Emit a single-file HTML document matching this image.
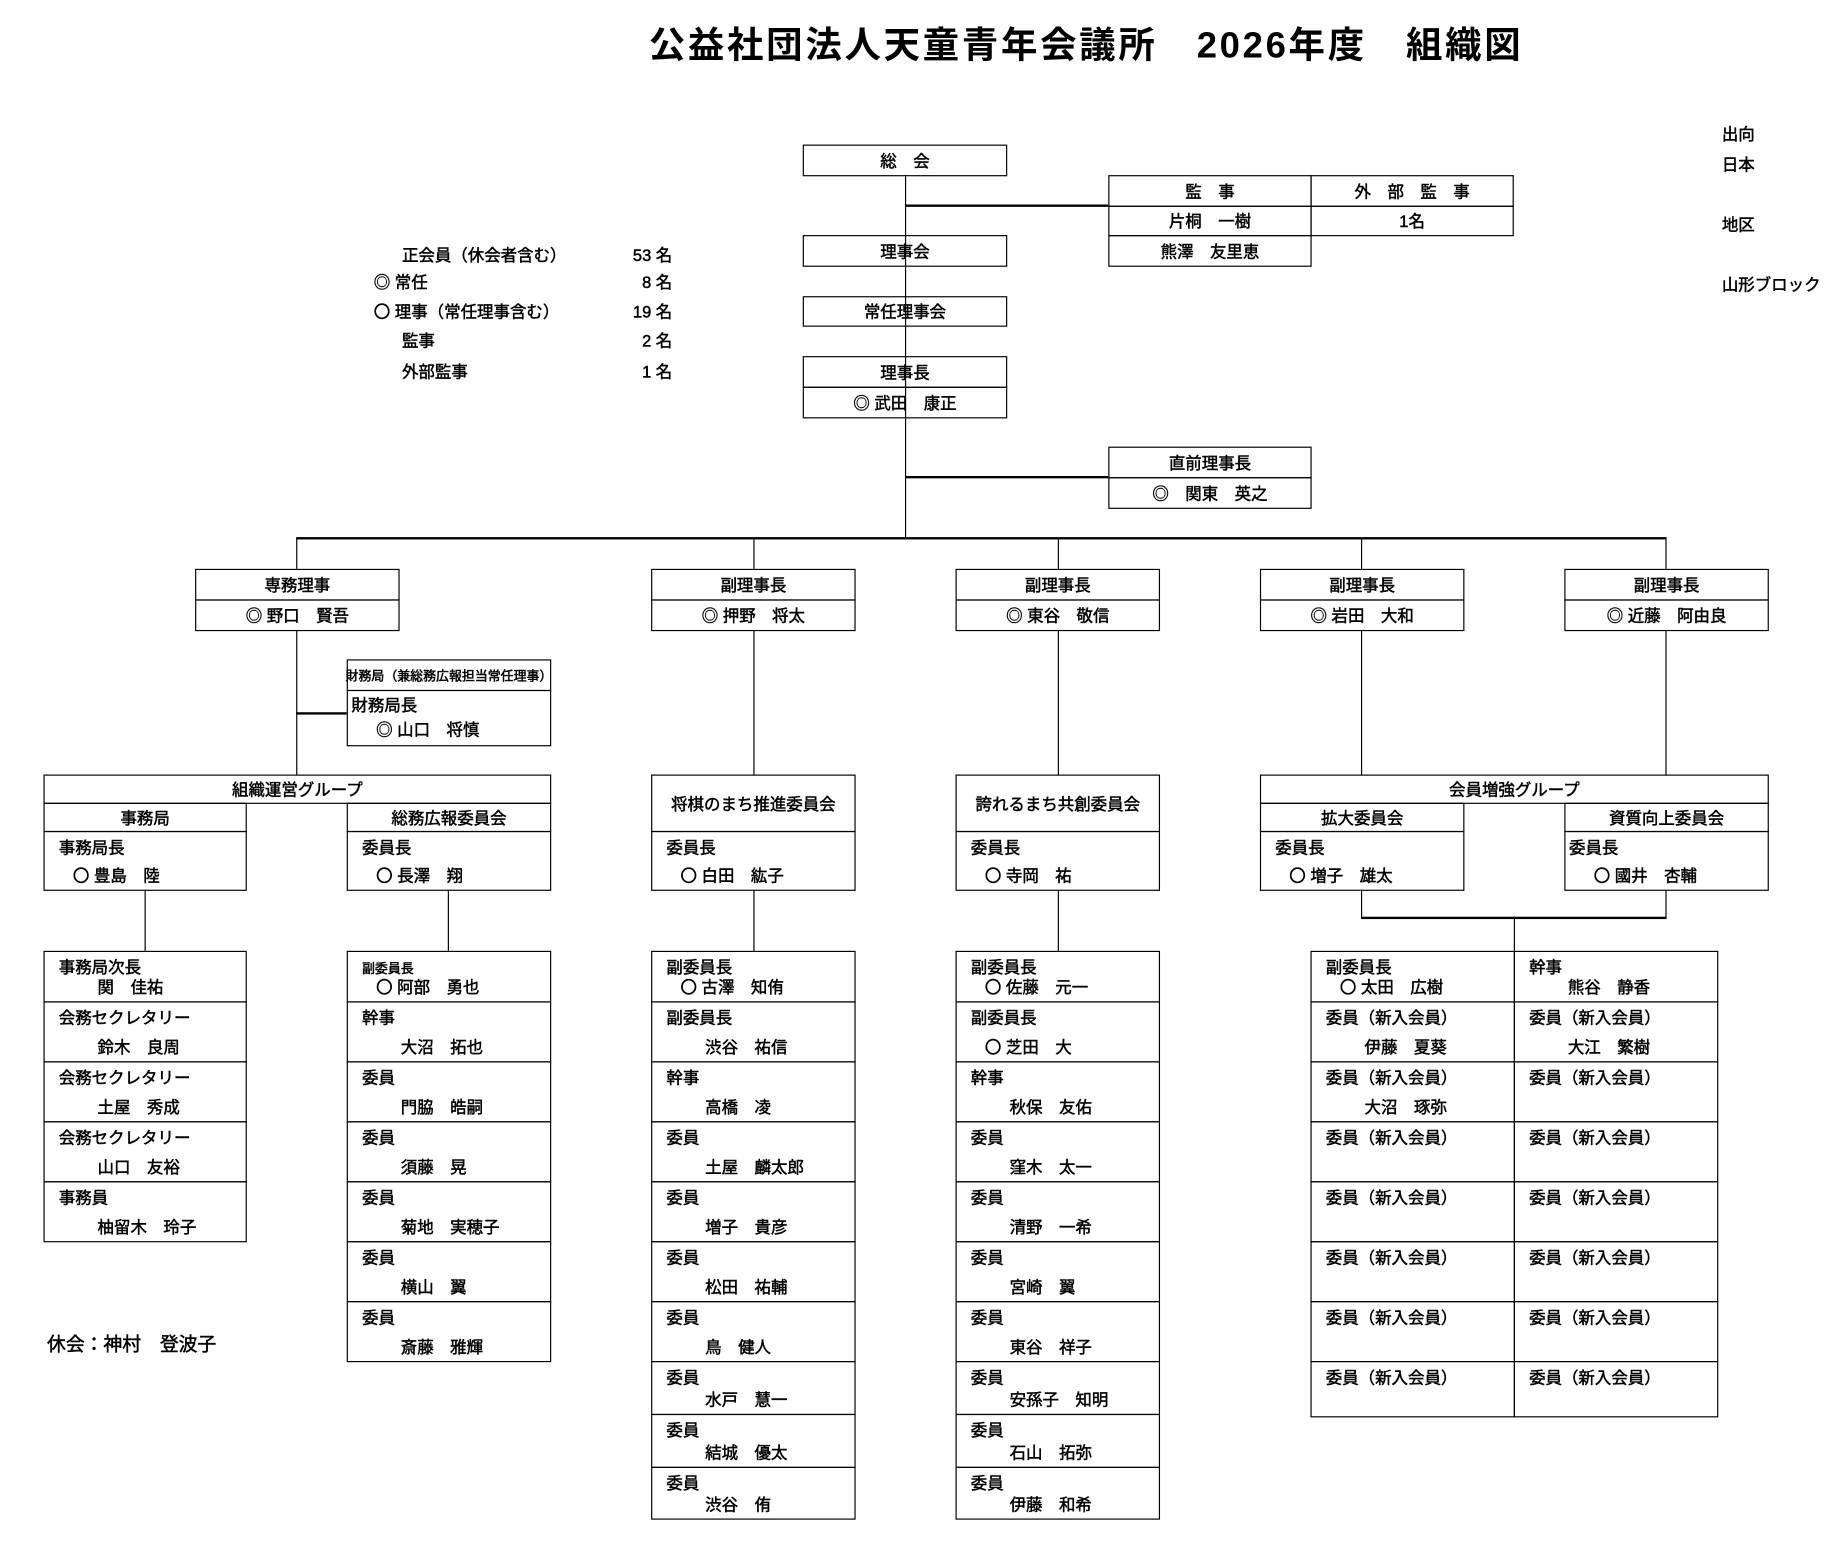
<!DOCTYPE html>
<html><head><meta charset="utf-8">
<style>
html,body{margin:0;padding:0;background:#fff;}
body{width:1842px;height:1556px;overflow:hidden;position:relative;}
#w{position:absolute;left:0;top:0;width:1560px;height:1318px;transform:scale(1.1753);transform-origin:0 0;
font-family:"Liberation Sans","Noto Sans CJK JP",sans-serif;font-size:14px;color:#000;-webkit-text-stroke:0.4px #000;}
.b{position:absolute;box-sizing:border-box;border-left:1.3px solid #000;border-right:1.3px solid #000;border-top:1.8px solid #000;border-bottom:1.8px solid #000;}
.c{display:flex;align-items:center;justify-content:center;white-space:nowrap;}
.h{position:absolute;height:1.6px;background:#000;}
.v{position:absolute;width:1.3px;background:#000;}
.t{position:absolute;white-space:nowrap;line-height:18px;}
.l{position:absolute;left:12px;top:4px;white-space:nowrap;line-height:18px;}
.n{position:absolute;left:45px;bottom:3px;white-space:nowrap;line-height:18px;}
.nc{position:absolute;left:24px;bottom:3px;white-space:nowrap;line-height:18px;}
.sm{font-size:11px;}
</style></head><body><div id="w">

<div class="t" style="left:552px;top:18px;font-size:31px;line-height:42px;font-weight:bold;-webkit-text-stroke:0;letter-spacing:2.3px;">公益社団法人天童青年会議所　2026年度　組織図</div>

<div class="t" style="left:1465px;top:105px;">出向</div>
<div class="t" style="left:1465px;top:131px;">日本</div>
<div class="t" style="left:1465px;top:182px;">地区</div>
<div class="t" style="left:1465px;top:233px;">山形ブロック</div>

<div class="t" style="left:342px;top:208px;">正会員（休会者含む）</div><div class="t" style="left:520px;top:208px;width:52px;text-align:right;">53 名</div>
<div class="t" style="left:318px;top:231px;">◎ 常任</div><div class="t" style="left:520px;top:231px;width:52px;text-align:right;">8 名</div>
<div class="t" style="left:318px;top:256px;">〇 理事（常任理事含む）</div><div class="t" style="left:520px;top:256px;width:52px;text-align:right;">19 名</div>
<div class="t" style="left:342px;top:281px;">監事</div><div class="t" style="left:520px;top:281px;width:52px;text-align:right;">2 名</div>
<div class="t" style="left:342px;top:307px;">外部監事</div><div class="t" style="left:520px;top:307px;width:52px;text-align:right;">1 名</div>

<div class="t" style="left:40px;top:1136px;font-size:16px;">休会：神村　登波子</div>

<div class="v" style="left:770px;top:149px;height:309px;"></div>
<div class="h" style="left:770px;top:174px;width:173px;"></div>
<div class="h" style="left:770px;top:405px;width:173px;"></div>
<div class="h" style="left:252px;top:457px;width:1166px;"></div>
<div class="v" style="left:252px;top:458px;height:26px;"></div>
<div class="v" style="left:641px;top:458px;height:26px;"></div>
<div class="v" style="left:900px;top:458px;height:26px;"></div>
<div class="v" style="left:1158px;top:458px;height:26px;"></div>
<div class="v" style="left:1417px;top:458px;height:26px;"></div>

<div class="b c" style="left:683px;top:123px;width:174px;height:27px;">総　会</div>
<div class="b c" style="left:683px;top:200px;width:174px;height:27px;">理事会</div>
<div class="b c" style="left:683px;top:252px;width:174px;height:26px;">常任理事会</div>
<div class="b c" style="left:683px;top:303px;width:174px;height:27px;">理事長</div>
<div class="b c" style="left:683px;top:329px;width:174px;height:27px;">◎ 武田　康正</div>

<div class="b c" style="left:943px;top:149px;width:173px;height:27px;">監　事</div>
<div class="b c" style="left:1115px;top:149px;width:173px;height:27px;">外　部　監　事</div>
<div class="b c" style="left:943px;top:175px;width:173px;height:26px;">片桐　一樹</div>
<div class="b c" style="left:1115px;top:175px;width:173px;height:26px;">1名</div>
<div class="b c" style="left:943px;top:200px;width:173px;height:27px;">熊澤　友里恵</div>

<div class="b c" style="left:943px;top:380px;width:173px;height:27px;">直前理事長</div>
<div class="b c" style="left:943px;top:406px;width:173px;height:27px;">◎　関東　英之</div>

<div class="b c" style="left:166px;top:484px;width:174px;height:27px;">専務理事</div>
<div class="b c" style="left:166px;top:510px;width:174px;height:27px;">◎ 野口　賢吾</div>
<div class="b c" style="left:554px;top:484px;width:174px;height:27px;">副理事長</div>
<div class="b c" style="left:554px;top:510px;width:174px;height:27px;">◎ 押野　将太</div>
<div class="b c" style="left:813px;top:484px;width:174px;height:27px;">副理事長</div>
<div class="b c" style="left:813px;top:510px;width:174px;height:27px;">◎ 東谷　敬信</div>
<div class="b c" style="left:1072px;top:484px;width:174px;height:27px;">副理事長</div>
<div class="b c" style="left:1072px;top:510px;width:174px;height:27px;">◎ 岩田　大和</div>
<div class="b c" style="left:1331px;top:484px;width:174px;height:27px;">副理事長</div>
<div class="b c" style="left:1331px;top:510px;width:174px;height:27px;">◎ 近藤　阿由良</div>

<div class="v" style="left:252px;top:536px;height:123px;"></div>
<div class="h" style="left:252px;top:606px;width:43px;"></div>
<div class="v" style="left:641px;top:536px;height:123px;"></div>
<div class="v" style="left:900px;top:536px;height:123px;"></div>
<div class="v" style="left:1158px;top:536px;height:123px;"></div>
<div class="v" style="left:1417px;top:536px;height:123px;"></div>

<div class="b c sm" style="left:295px;top:561px;width:174px;height:27px;">財務局（兼総務広報担当常任理事）</div>
<div class="b" style="left:295px;top:587px;width:174px;height:48px;"><span class="l" style="left:3px;top:3px;">財務局長</span><span class="nc" style="bottom:4px;">◎ 山口　将慎</span></div>

<div class="b c" style="left:37px;top:659px;width:432px;height:25px;">組織運営グループ</div>
<div class="b c" style="left:37px;top:683px;width:173px;height:25px;">事務局</div>
<div class="b c" style="left:295px;top:683px;width:174px;height:25px;">総務広報委員会</div>
<div class="b" style="left:37px;top:707px;width:173px;height:51px;"><span class="l">事務局長</span><span class="nc">〇 豊島　陸</span></div>
<div class="b" style="left:295px;top:707px;width:174px;height:51px;"><span class="l">委員長</span><span class="nc">〇 長澤　翔</span></div>

<div class="b c" style="left:554px;top:659px;width:174px;height:49px;">将棋のまち推進委員会</div>
<div class="b" style="left:554px;top:707px;width:174px;height:51px;"><span class="l">委員長</span><span class="nc">〇 白田　紘子</span></div>
<div class="b c" style="left:813px;top:659px;width:174px;height:49px;">誇れるまち共創委員会</div>
<div class="b" style="left:813px;top:707px;width:174px;height:51px;"><span class="l">委員長</span><span class="nc">〇 寺岡　祐</span></div>

<div class="b c" style="left:1072px;top:659px;width:433px;height:25px;">会員増強グループ</div>
<div class="b c" style="left:1072px;top:683px;width:174px;height:25px;">拡大委員会</div>
<div class="b c" style="left:1331px;top:683px;width:174px;height:25px;">資質向上委員会</div>
<div class="b" style="left:1072px;top:707px;width:174px;height:51px;"><span class="l">委員長</span><span class="nc">〇 増子　雄太</span></div>
<div class="b" style="left:1331px;top:707px;width:174px;height:51px;"><span class="l" style="left:3px;">委員長</span><span class="nc">〇 國井　杏輔</span></div>

<div class="v" style="left:123px;top:757px;height:52px;"></div>
<div class="v" style="left:381px;top:757px;height:52px;"></div>
<div class="v" style="left:641px;top:757px;height:52px;"></div>
<div class="v" style="left:900px;top:757px;height:52px;"></div>
<div class="v" style="left:1158px;top:757px;height:24px;"></div>
<div class="v" style="left:1417px;top:757px;height:24px;"></div>
<div class="h" style="left:1158px;top:780px;width:260px;"></div>
<div class="v" style="left:1288px;top:780px;height:29px;"></div>

<div class="b" style="left:37px;top:809px;width:173px;height:44px;"><span class="l">事務局次長</span><span class="n">関　佳祐</span></div>
<div class="b" style="left:37px;top:852px;width:173px;height:52px;"><span class="l">会務セクレタリー</span><span class="n">鈴木　良周</span></div>
<div class="b" style="left:37px;top:903px;width:173px;height:52px;"><span class="l">会務セクレタリー</span><span class="n">土屋　秀成</span></div>
<div class="b" style="left:37px;top:954px;width:173px;height:52px;"><span class="l">会務セクレタリー</span><span class="n">山口　友裕</span></div>
<div class="b" style="left:37px;top:1005px;width:173px;height:52px;"><span class="l">事務員</span><span class="n">柚留木　玲子</span></div>

<div class="b" style="left:295px;top:809px;width:174px;height:44px;"><span class="l sm" style="top:6px;">副委員長</span><span class="nc">〇 阿部　勇也</span></div>
<div class="b" style="left:295px;top:852px;width:174px;height:52px;"><span class="l">幹事</span><span class="n">大沼　拓也</span></div>
<div class="b" style="left:295px;top:903px;width:174px;height:52px;"><span class="l">委員</span><span class="n">門脇　皓嗣</span></div>
<div class="b" style="left:295px;top:954px;width:174px;height:52px;"><span class="l">委員</span><span class="n">須藤　晃</span></div>
<div class="b" style="left:295px;top:1005px;width:174px;height:52px;"><span class="l">委員</span><span class="n">菊地　実穂子</span></div>
<div class="b" style="left:295px;top:1056px;width:174px;height:52px;"><span class="l">委員</span><span class="n">横山　翼</span></div>
<div class="b" style="left:295px;top:1107px;width:174px;height:52px;"><span class="l">委員</span><span class="n">斎藤　雅輝</span></div>

<div class="b" style="left:554px;top:809px;width:174px;height:44px;"><span class="l">副委員長</span><span class="nc">〇 古澤　知侑</span></div>
<div class="b" style="left:554px;top:852px;width:174px;height:52px;"><span class="l">副委員長</span><span class="n">渋谷　祐信</span></div>
<div class="b" style="left:554px;top:903px;width:174px;height:52px;"><span class="l">幹事</span><span class="n">高橋　凌</span></div>
<div class="b" style="left:554px;top:954px;width:174px;height:52px;"><span class="l">委員</span><span class="n">土屋　麟太郎</span></div>
<div class="b" style="left:554px;top:1005px;width:174px;height:52px;"><span class="l">委員</span><span class="n">増子　貴彦</span></div>
<div class="b" style="left:554px;top:1056px;width:174px;height:52px;"><span class="l">委員</span><span class="n">松田　祐輔</span></div>
<div class="b" style="left:554px;top:1107px;width:174px;height:52px;"><span class="l">委員</span><span class="n">鳥　健人</span></div>
<div class="b" style="left:554px;top:1158px;width:174px;height:46px;"><span class="l">委員</span><span class="n">水戸　慧一</span></div>
<div class="b" style="left:554px;top:1203px;width:174px;height:46px;"><span class="l">委員</span><span class="n">結城　優太</span></div>
<div class="b" style="left:554px;top:1248px;width:174px;height:45px;"><span class="l">委員</span><span class="n">渋谷　侑</span></div>

<div class="b" style="left:813px;top:809px;width:174px;height:44px;"><span class="l">副委員長</span><span class="nc">〇 佐藤　元一</span></div>
<div class="b" style="left:813px;top:852px;width:174px;height:52px;"><span class="l">副委員長</span><span class="nc">〇 芝田　大</span></div>
<div class="b" style="left:813px;top:903px;width:174px;height:52px;"><span class="l">幹事</span><span class="n">秋保　友佑</span></div>
<div class="b" style="left:813px;top:954px;width:174px;height:52px;"><span class="l">委員</span><span class="n">窪木　太一</span></div>
<div class="b" style="left:813px;top:1005px;width:174px;height:52px;"><span class="l">委員</span><span class="n">清野　一希</span></div>
<div class="b" style="left:813px;top:1056px;width:174px;height:52px;"><span class="l">委員</span><span class="n">宮崎　翼</span></div>
<div class="b" style="left:813px;top:1107px;width:174px;height:52px;"><span class="l">委員</span><span class="n">東谷　祥子</span></div>
<div class="b" style="left:813px;top:1158px;width:174px;height:46px;"><span class="l">委員</span><span class="n">安孫子　知明</span></div>
<div class="b" style="left:813px;top:1203px;width:174px;height:46px;"><span class="l">委員</span><span class="n">石山　拓弥</span></div>
<div class="b" style="left:813px;top:1248px;width:174px;height:45px;"><span class="l">委員</span><span class="n">伊藤　和希</span></div>

<div class="b" style="left:1115px;top:809px;width:174px;height:44px;"><span class="l">副委員長</span><span class="nc">〇 太田　広樹</span></div>
<div class="b" style="left:1115px;top:852px;width:174px;height:52px;"><span class="l">委員（新入会員）</span><span class="n">伊藤　夏葵</span></div>
<div class="b" style="left:1115px;top:903px;width:174px;height:52px;"><span class="l">委員（新入会員）</span><span class="n">大沼　琢弥</span></div>
<div class="b" style="left:1115px;top:954px;width:174px;height:52px;"><span class="l">委員（新入会員）</span></div>
<div class="b" style="left:1115px;top:1005px;width:174px;height:52px;"><span class="l">委員（新入会員）</span></div>
<div class="b" style="left:1115px;top:1056px;width:174px;height:52px;"><span class="l">委員（新入会員）</span></div>
<div class="b" style="left:1115px;top:1107px;width:174px;height:52px;"><span class="l">委員（新入会員）</span></div>
<div class="b" style="left:1115px;top:1158px;width:174px;height:48px;"><span class="l">委員（新入会員）</span></div>

<div class="b" style="left:1288px;top:809px;width:174px;height:44px;"><span class="l">幹事</span><span class="n">熊谷　静香</span></div>
<div class="b" style="left:1288px;top:852px;width:174px;height:52px;"><span class="l">委員（新入会員）</span><span class="n">大江　繁樹</span></div>
<div class="b" style="left:1288px;top:903px;width:174px;height:52px;"><span class="l">委員（新入会員）</span></div>
<div class="b" style="left:1288px;top:954px;width:174px;height:52px;"><span class="l">委員（新入会員）</span></div>
<div class="b" style="left:1288px;top:1005px;width:174px;height:52px;"><span class="l">委員（新入会員）</span></div>
<div class="b" style="left:1288px;top:1056px;width:174px;height:52px;"><span class="l">委員（新入会員）</span></div>
<div class="b" style="left:1288px;top:1107px;width:174px;height:52px;"><span class="l">委員（新入会員）</span></div>
<div class="b" style="left:1288px;top:1158px;width:174px;height:48px;"><span class="l">委員（新入会員）</span></div>

</div></body></html>
